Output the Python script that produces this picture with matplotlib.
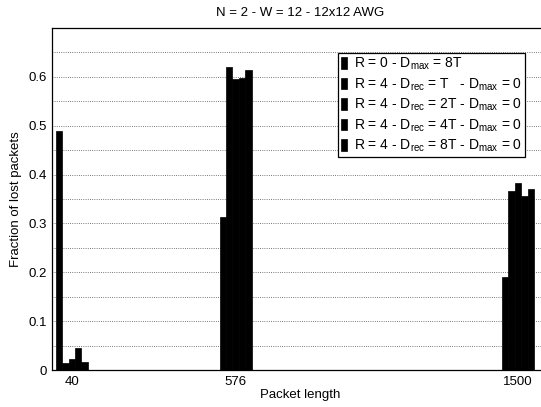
import numpy as np
import matplotlib
matplotlib.use("Agg")
import matplotlib.pyplot as plt
from matplotlib.ticker import MultipleLocator

plt.rcParams['font.family'] = ['Liberation Sans', 'DejaVu Sans']
plt.rcParams['mathtext.fontset'] = 'custom'
plt.rcParams['mathtext.rm'] = 'Liberation Sans'
plt.rcParams['mathtext.it'] = 'Liberation Sans'

packet_lengths = [40, 576, 1500]
series_labels = [
    r"R = 0 - D$_{\mathrm{max}}$ = 8T",
    r"R = 4 - D$_{\mathrm{rec}}$ = T   - D$_{\mathrm{max}}$ = 0",
    r"R = 4 - D$_{\mathrm{rec}}$ = 2T - D$_{\mathrm{max}}$ = 0",
    r"R = 4 - D$_{\mathrm{rec}}$ = 4T - D$_{\mathrm{max}}$ = 0",
    r"R = 4 - D$_{\mathrm{rec}}$ = 8T - D$_{\mathrm{max}}$ = 0",
]
r0_d8 = [0.49, 0.313, 0.19]
r4_d1 = [0.015, 0.62, 0.367]
r4_d2 = [0.022, 0.596, 0.383]
r4_d4 = [0.046, 0.598, 0.357]
r4_d8 = [0.016, 0.614, 0.371]
series = [r0_d8, r4_d1, r4_d2, r4_d4, r4_d8]

fig = plt.figure(figsize=(5.41, 4.07), dpi=100)
ax = fig.add_axes([0.0961, 0.0909, 0.9178, 0.8403])

w = 21
x = np.array(packet_lengths, dtype=float)
for i, (vals, lab) in enumerate(zip(series, series_labels)):
    ax.bar(x + (i - 2) * w, vals, width=w, color='black',
           edgecolor='black', linewidth=0.5, label=lab, zorder=3)

ax.set_xlim(-25, 1600)
ax.set_ylim(0, 0.7)
ax.set_xticks(packet_lengths)
ax.set_yticks([0, 0.1, 0.2, 0.3, 0.4, 0.5, 0.6])
ax.set_yticklabels(['0', '0.1', '0.2', '0.3', '0.4', '0.5', '0.6'])
ax.yaxis.set_minor_locator(MultipleLocator(0.05))
ax.grid(True, axis='y', which='both', linestyle=':', color='black',
        linewidth=0.6, alpha=0.7, zorder=0)
ax.tick_params(axis='both', which='both', length=0, labelsize=9.5)
ax.tick_params(axis='x', pad=4)

for s in ax.spines.values():
    s.set_linewidth(0.9)

ax.set_title("N = 2 - W = 12 - 12x12 AWG", fontsize=9.5, pad=9)
ax.set_xlabel("Packet length", fontsize=9.5, labelpad=1)
ax.set_ylabel("Fraction of lost packets", fontsize=9.5, labelpad=5)

leg = ax.legend(loc='upper right', bbox_to_anchor=(0.953, 0.927),
                fontsize=10, frameon=True, fancybox=False, shadow=False,
                handlelength=0.45, handleheight=0.9, handletextpad=0.5,
                borderpad=0.2, labelspacing=0.3, borderaxespad=0)
leg.get_frame().set_edgecolor('black')
leg.get_frame().set_linewidth(0.9)
leg.get_frame().set_alpha(1)

fig.savefig("out.png", dpi=100)
